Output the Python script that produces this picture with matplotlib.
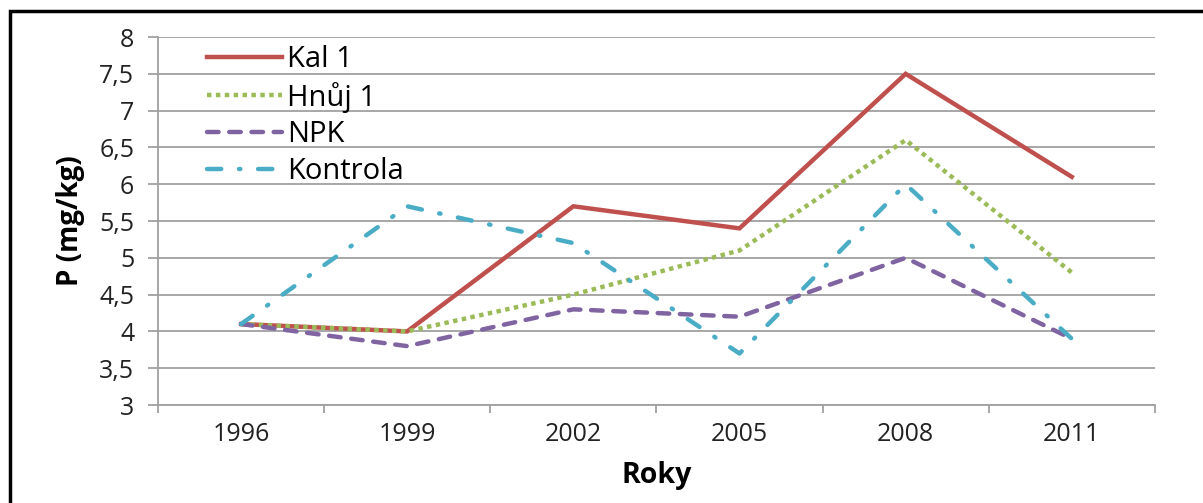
import numpy as np
import matplotlib.pyplot as plt
from matplotlib.patches import Rectangle
from matplotlib.ticker import FuncFormatter, FixedLocator

# P content in soil (mg/kg) by sampling year
roky = ['1996', '1999', '2002', '2005', '2008', '2011']
kal_1 = [4.1, 4.0, 5.7, 5.4, 7.5, 6.1]
hnuj_1 = [4.1, 4.0, 4.5, 5.1, 6.6, 4.8]
npk = [4.1, 3.8, 4.3, 4.2, 5.0, 3.9]
kontrola = [4.1, 5.7, 5.2, 3.7, 6.0, 3.9]

plt.rcParams['font.family'] = ['Open Sans', 'DejaVu Sans']

fig = plt.figure(figsize=(12.03, 5.03), dpi=100)
ax = fig.add_axes([0.1313, 0.1948, 0.8287, 0.7316])

# black frame around the whole chart (runs off the right and bottom edge)
fig.patches.append(Rectangle((10 / 1203, -0.1), 1.2, (503 - 11) / 503 + 0.1,
                             transform=fig.transFigure, fill=False,
                             edgecolor='black', linewidth=2.5))

x = np.arange(len(roky))
lw = 3.2
ax.plot(x, kal_1, color='#C0504D', lw=lw, label='Kal 1', solid_joinstyle='miter')
ax.plot(x, hnuj_1, color='#9BBB59', lw=lw, label='Hnůj 1',
        linestyle=(0, (1, 1)), dash_capstyle='butt')
ax.plot(x, npk, color='#8064A2', lw=lw, label='NPK',
        linestyle=(0, (2.6, 2.4)), dash_capstyle='round')
ax.plot(x, kontrola, color='#4BACC6', lw=lw, label='Kontrola',
        linestyle=(0, (3.2, 4.0, 0.3, 4.0)), dash_capstyle='round')

ax.set_xlim(-0.5, len(roky) - 0.5)
ax.set_ylim(3, 8)
ax.set_xticks(x)
ax.set_xticklabels(roky)
ax.xaxis.set_minor_locator(FixedLocator(np.arange(-0.5, len(roky), 1.0)))
ax.set_yticks(np.arange(3, 8.01, 0.5))
ax.yaxis.set_major_formatter(FuncFormatter(lambda v, p: ('%g' % v).replace('.', ',')))

ax.grid(axis='y', color='#a0a0a0', linewidth=1.3)
ax.set_axisbelow(True)
for s in ['top', 'right']:
    ax.spines[s].set_visible(False)
for s in ['left', 'bottom']:
    ax.spines[s].set_color('#a0a0a0')
    ax.spines[s].set_linewidth(1.3)

ax.tick_params(axis='x', which='major', length=0, labelsize=18, pad=12, colors='#222222')
ax.tick_params(axis='x', which='minor', length=6, width=1.3, color='#a0a0a0')
ax.tick_params(axis='y', length=7, width=1.3, color='#a0a0a0', labelsize=18,
               pad=10, labelcolor='#222222')

ax.set_xlabel('Roky', fontsize=20.5, fontweight='bold', labelpad=10)
ax.set_ylabel('P (mg/kg)', fontsize=20, fontweight='bold', labelpad=10)

ax.legend(loc='upper left', bbox_to_anchor=(0.037, 1.01), frameon=False, fontsize=21,
          handlelength=2.6, handletextpad=0.15, labelspacing=0.26, borderaxespad=0)

fig.savefig('out.png', dpi=100)
